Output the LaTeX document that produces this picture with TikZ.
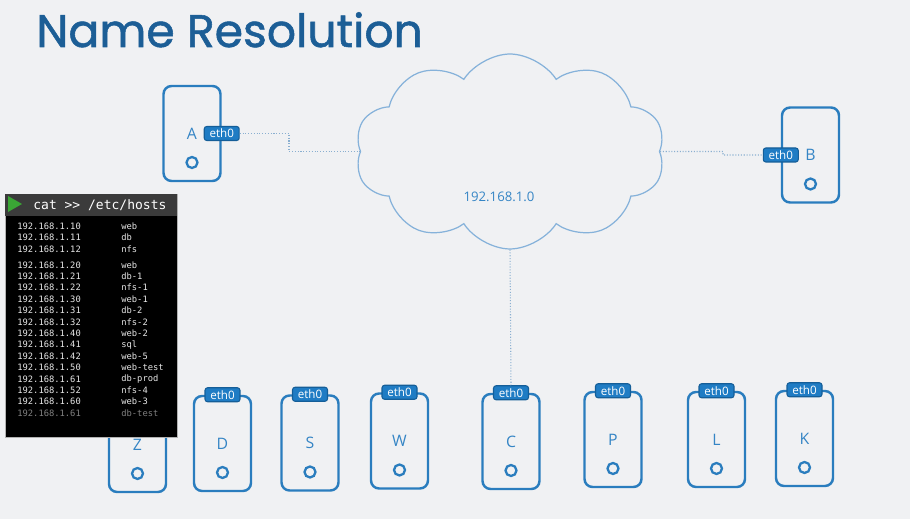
\documentclass[tikz,border=0pt]{standalone}
\usepackage{fontspec}
\setmainfont{Open Sans}
\newfontfamily\titlefont{Poppins}[FakeBold=1.2]
\newfontfamily\termfont{DejaVu Sans Mono}
\usetikzlibrary{shapes.symbols}
\definecolor{fondo}{HTML}{F0F1F3}
\definecolor{titulo}{HTML}{1C5E96}
\definecolor{hostazul}{HTML}{2A7DBE}
\definecolor{letra}{HTML}{3585C5}
\definecolor{badgeazul}{HTML}{1F7CC4}
\definecolor{badgeborde}{HTML}{155E98}
\definecolor{nubeazul}{HTML}{86B2DA}
\definecolor{enlaceazul}{HTML}{8AAFD0}
\definecolor{termbarra}{HTML}{3B3B3B}
\definecolor{termtexto}{HTML}{E6E6E6}
\definecolor{verde}{HTML}{3AA635}
\begin{document}
\begin{tikzpicture}[x=0.02cm, y=-0.02cm,
    host/.style={draw=hostazul, line width=1.4pt, rounded corners=0.16cm, minimum width=1.14cm, minimum height=1.9cm, inner sep=0pt, text=letra, font=\fontsize{9}{10}\selectfont},
    badge/.style={draw=badgeborde, fill=badgeazul, line width=0.6pt, rounded corners=0.05cm, minimum width=0.7cm, minimum height=0.28cm, inner sep=0pt, text=white, font=\fontsize{6.6}{7}\selectfont},
    enlace/.style={densely dotted, line width=0.6pt, draw=enlaceazul},
    puerto/.style={draw=hostazul, line width=1.3pt},
    linea/.style={anchor=west, inner sep=0pt, text=termtexto, font=\termfont\fontsize{5}{5}\selectfont}]
    % Fondo
    \fill[fondo] (0,0) rectangle (910,519);
    \useasboundingbox (0,0) rectangle (910,519);

    % Titulo
    \node[anchor=base west, inner sep=0pt, text=titulo, font=\titlefont\fontsize{26}{30}\selectfont] (titulo) at (36,47) {Name Resolution};

    % Red
    \node[cloud, cloud puffs=10, cloud puff arc=115, aspect=1.6, draw=nubeazul, line width=0.7pt, minimum width=6.2cm, minimum height=3.9cm, inner sep=0pt] (nube) at (510,151.5) {};
    \node[text=letra, font=\fontsize{7.5}{8}\selectfont] (red) at (499,197) {192.168.1.0};

    % Hosts
    \node[host] (A) at (192,133.5) {A};
    \node[host] (B) at (810.5,155) {B};
    \node[host] (Z) at (137.5,444.5) {Z};
    \node[host] (D) at (222.5,443.5) {D};
    \node[host] (S) at (310,443) {S};
    \node[host] (W) at (399.5,441) {W};
    \node[host] (C) at (511,441.5) {C};
    \node[host] (P) at (613,439.5) {P};
    \node[host] (L) at (716.5,439.5) {L};
    \node[host] (K) at (804.5,438.5) {K};
    \foreach \h in {A,B,Z,D,S,W,C,P,L,K}
        \draw[puerto] ([yshift=-0.58cm]\h.center) circle (0.11cm);

    % Interfaces
    \node[badge] (eA) at (A.east) {eth0};
    \node[badge] (eB) at (B.west) {eth0};
    \foreach \h in {D,S,W,C,P,L,K}
        \node[badge] (e\h) at (\h.north) {eth0};

    % Enlaces
    \coordinate (codoA) at (289,133.5);
    \coordinate (codoB) at (723,151.5);
    \draw[enlace] (eA.east) -- (codoA) |- (nube.west);
    \draw[enlace] (nube.east) -- (codoB) |- (eB.west);
    \draw[enlace] (nube.south) -- (eC.north);

    % Terminal
    \filldraw[fill=black, draw=gray!60, line width=0.4pt] (5,194) rectangle (177,437);
    \fill[termbarra] (5,194) rectangle (177,216);
    \fill[verde] (8,196) -- (8,212) -- (22,204) -- cycle;
    \node[anchor=west, inner sep=0pt, text=white, font=\termfont\fontsize{7.4}{8}\selectfont] (cmd) at (33,205) {cat >> /etc/hosts};
    \foreach \y/\ip/\nm [count=\i] in {226/192.168.1.10/web, 237.7/192.168.1.11/db, 249/192.168.1.12/nfs,
            265/192.168.1.20/web, 276.3/192.168.1.21/db-1, 287.7/192.168.1.22/nfs-1, 299/192.168.1.30/web-1,
            310.3/192.168.1.31/db-2, 322/192.168.1.32/nfs-2, 333.3/192.168.1.40/web-2, 344.7/192.168.1.41/sql,
            356/192.168.1.42/web-5, 367.3/192.168.1.50/web-test, 379/192.168.1.61/db-prod,
            390.3/192.168.1.52/nfs-4, 401.7/192.168.1.60/web-3}
    {
        \node[linea] (ip\i) at (17,\y) {\ip};
        \node[linea] (nm\i) at (121,\y) {\nm};
    }
    \node[linea, text=gray] (ip17) at (17,413) {192.168.1.61};
    \node[linea, text=gray] (nm17) at (121,413) {db-test};
\end{tikzpicture}
\end{document}
